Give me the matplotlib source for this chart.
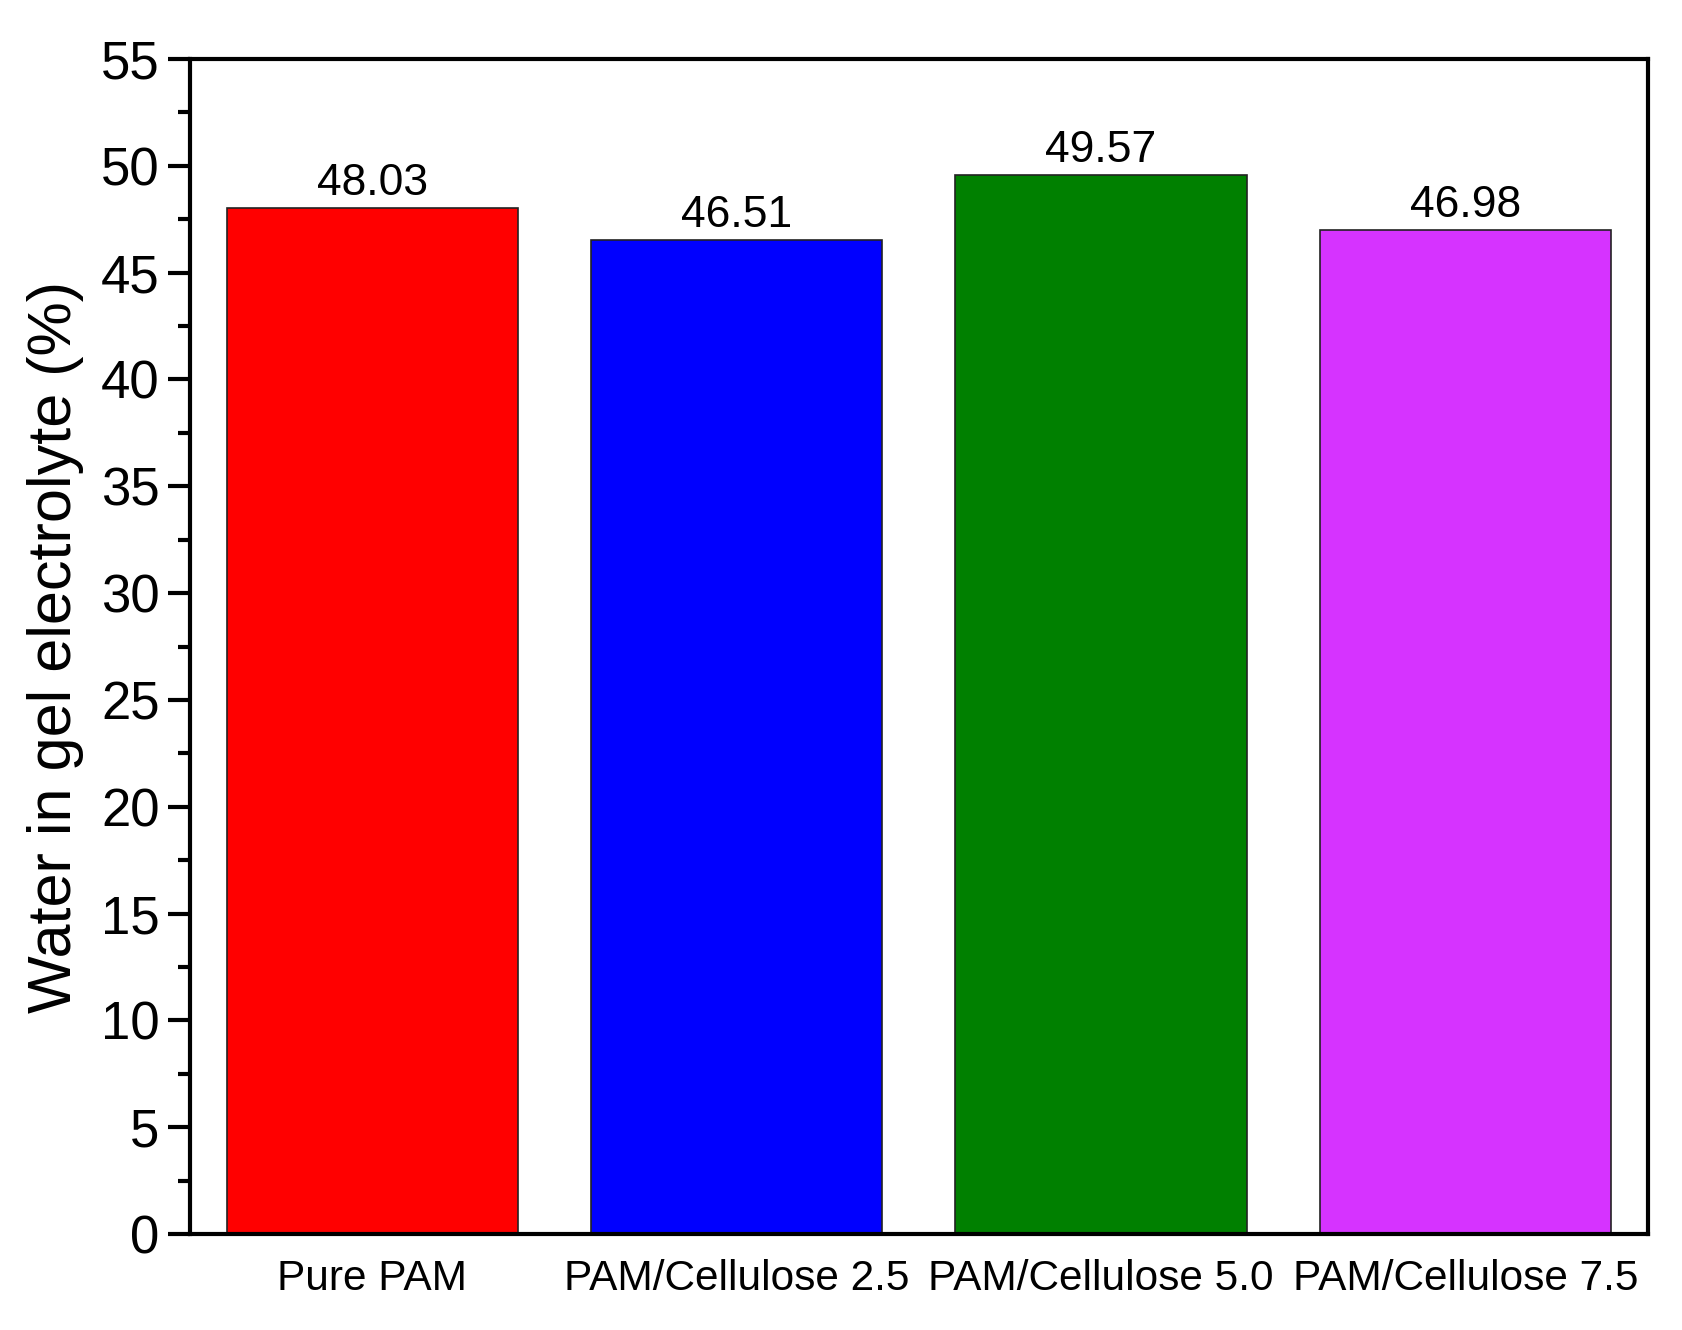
import numpy as np
import matplotlib
matplotlib.use('Agg')
import matplotlib.pyplot as plt
from matplotlib.ticker import MultipleLocator

# data
samples = ['Pure PAM', 'PAM/Cellulose 2.5', 'PAM/Cellulose 5.0', 'PAM/Cellulose 7.5']
water = [48.03, 46.51, 49.57, 46.98]
bar_colors = ['#FF0000', '#0000FF', '#008000', '#D633FF']

plt.rcParams['font.family'] = ['Liberation Sans', 'DejaVu Sans']

fig = plt.figure(figsize=(16.83, 13.3), dpi=100)
ax = fig.add_axes([0.113, 0.0722, 0.866, 0.8834])

x = np.arange(len(samples))
bars = ax.bar(x, water, width=0.8, color=bar_colors, edgecolor='#222222', linewidth=1.2)

for b, v in zip(bars, water):
    ax.text(b.get_x() + b.get_width() / 2, v + 0.2, f'{v:.2f}',
            ha='center', va='bottom', fontsize=32)

ax.set_xlim(-0.5, 3.5)
ax.set_ylim(0, 55)
ax.yaxis.set_major_locator(MultipleLocator(5))
ax.yaxis.set_minor_locator(MultipleLocator(2.5))
ax.set_xticks(x)
ax.set_xticklabels(samples, fontsize=30.5)
ax.tick_params(axis='x', length=0, pad=18)
ax.tick_params(axis='y', which='major', length=16, width=3, labelsize=38, pad=6)
ax.tick_params(axis='y', which='minor', length=8.5, width=3)
for s in ax.spines.values():
    s.set_linewidth(3)

ax.set_ylabel('Water in gel electrolyte (%)', fontsize=44)
ax.yaxis.set_label_coords(-0.073, 0.5)

fig.savefig('out.png', dpi=100)
